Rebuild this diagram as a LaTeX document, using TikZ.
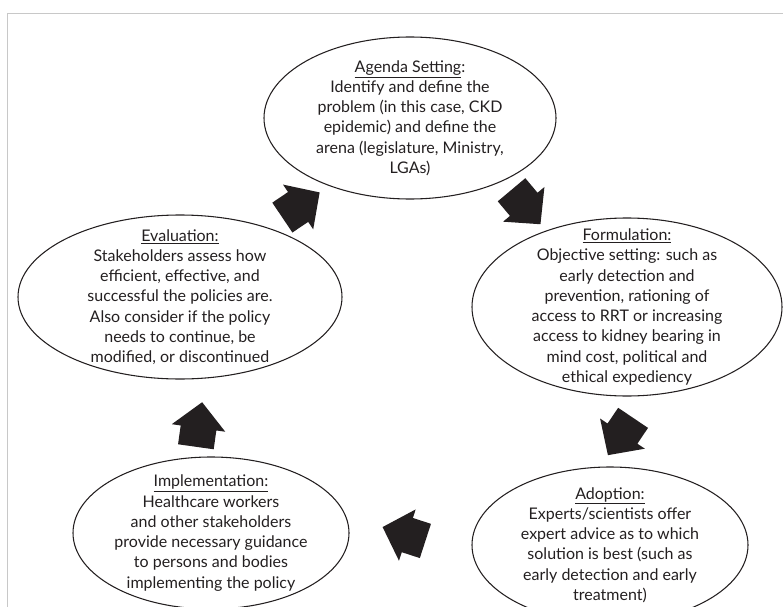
\documentclass[tikz,border=0pt]{standalone}
\usepackage{fontspec}
\setmainfont{Lato}
\usetikzlibrary{shapes.geometric}
\definecolor{ink}{HTML}{231F20}
\definecolor{framegray}{HTML}{C8C8C8}
\begin{document}
\begin{tikzpicture}[x=0.75pt,y=-0.75pt,
  stage/.style={ellipse, draw=ink, line width=0.8pt, inner sep=0pt},
  stagetext/.style={align=center, text=ink, font=\fontsize{12}{15.2}\selectfont, inner sep=0pt},
  blockarrow/.pic={\fill[ink] (22.5,0) -- (-3.5,27) -- (-3.5,18) -- (-22.5,18) -- (-22.5,-18) -- (-3.5,-18) -- (-3.5,-27) -- cycle;}]
\useasboundingbox (0,0) rectangle (783,607);
\draw[framegray, line width=0.6pt] (7,607) -- (7,13) -- (783,13);
% ellipses
\node[stage, minimum width=219pt, minimum height=121.5pt] (agenda) at (410,118) {};
\node[stage, minimum width=232.5pt, minimum height=133.5pt] (formulation) at (627,307) {};
\node[stage, minimum width=207pt, minimum height=117pt] (adoption) at (610,545) {};
\node[stage, minimum width=207pt, minimum height=114pt] (implementation) at (211,533) {};
\node[stage, minimum width=243pt, minimum height=123pt] (evaluation) at (180,297) {};
% texts
\node[stagetext] (agendatxt) at (agenda.center) {\underline{Agenda Setting}:\\Identify and define the\\problem (in this case, CKD\\epidemic) and define the\\arena (legislature, Ministry,\\LGAs)};
\node[stagetext] (formulationtxt) at (formulation.center) {\underline{Formulation:}\\Objective setting: such as\\early detection and\\prevention, rationing of\\access to RRT or increasing\\access to kidney bearing in\\mind cost, political and\\ethical expediency};
\node[stagetext] (adoptiontxt) at (adoption.center) {\underline{Adoption:}\\Experts/scientists offer\\expert advice as to which\\solution is best (such as\\early detection and early\\treatment)};
\node[stagetext] (implementationtxt) at (implementation.center) {\underline{Implementation:}\\Healthcare workers\\and other stakeholders\\provide necessary guidance\\to persons and bodies\\implementing the policy};
\node[stagetext] (evaluationtxt) at (evaluation.center) {\underline{Evaluation:}\\Stakeholders assess how\\efficient, effective, and\\successful the policies are.\\Also consider if the policy\\needs to continue, be\\modified, or discontinued};
% block arrows
\pic[rotate=34] (a1) at (301,205) {blockarrow};
\pic[rotate=-50] (a2) at (526,207) {blockarrow};
\pic[rotate=-124] (a3) at (620.5,436.5) {blockarrow};
\pic[rotate=162] (a4) at (404,534) {blockarrow};
\pic[rotate=82] (a5) at (199,424.5) {blockarrow};
\end{tikzpicture}
\end{document}
